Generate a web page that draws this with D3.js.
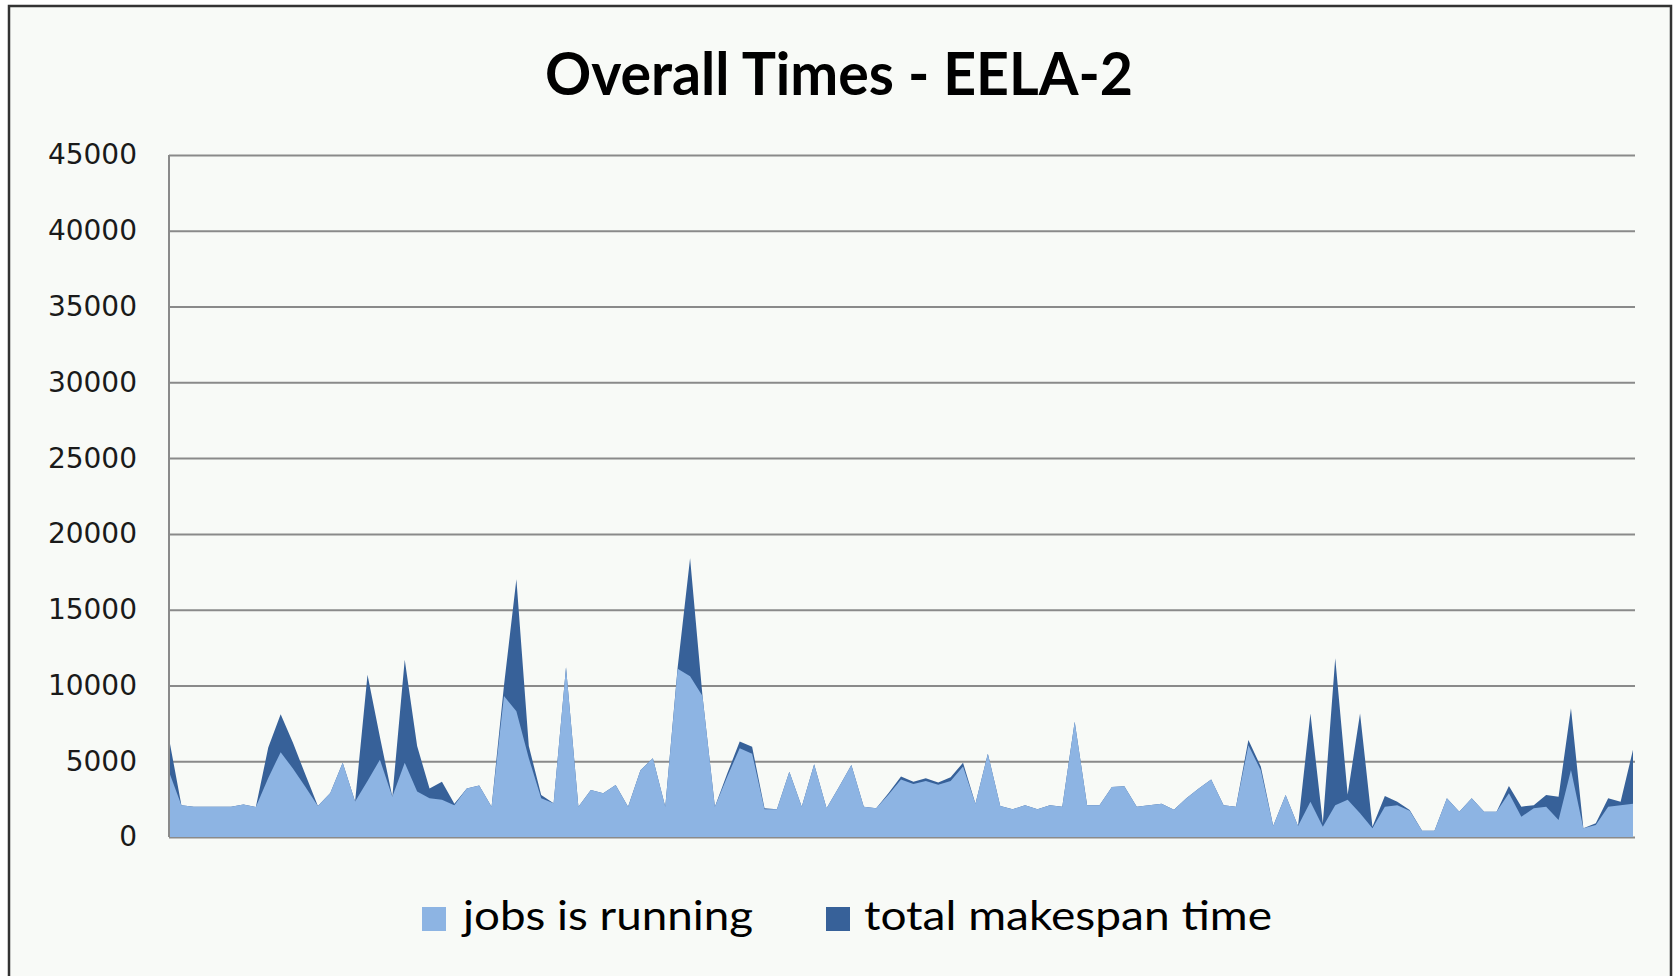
<!DOCTYPE html>
<html>
<head>
<meta charset="utf-8">
<script src="https://cdn.jsdelivr.net/npm/d3@7"></script>
<style>
  html, body { margin: 0; padding: 0; background: #ffffff; }
  svg { display: block; }
</style>
</head>
<body>
<svg id="mainFrame"></svg>
<script>
// values, one entry per job (119 of them)
const jobsRunning = [
    4300, 2100, 2000, 2000, 2000, 2000, 2150, 1980, 3900, 5600,
    4500, 3300, 2050, 2900, 4900, 2350, 3700, 5100, 2650, 4900,
    3000, 2550, 2450, 2100, 3200, 3400, 2000, 9300, 8300, 5200,
    2550, 2220, 11200, 2000, 3100, 2880, 3430, 2000, 4400, 5200,
    2000, 11100, 10600, 9300, 2000, 4000, 5850, 5500, 1830, 1830,
    4300, 2000, 4800, 1890, 3300, 4750, 2000, 1890, 2800, 3800,
    3500, 3700, 3450, 3700, 4650, 2200, 5500, 2050, 1830, 2100,
    1830, 2100, 2000, 7600, 2100, 2100, 3300, 3350, 2000, 2100,
    2200, 1800, 2550, 3200, 3800, 2100, 2000, 6050, 4400, 730,
    2770, 730, 2330, 680, 2100, 2450, 1560, 570, 2000, 2100,
    1740, 420, 420, 2550, 1670, 2550, 1670, 1670, 2880, 1340,
    1890, 2000, 1120, 4420, 570, 790, 2000, 2100, 2200
];

const totalMakespan = [
    6500, 2100, 2000, 2000, 2000, 2000, 2150, 1980, 5900, 8100,
    6200, 4100, 2050, 2900, 4900, 2350, 10700, 6600, 2650, 11700,
    6000, 3200, 3650, 2200, 3200, 3400, 2000, 10000, 17000, 6000,
    2770, 2220, 11200, 2000, 3100, 2880, 3430, 2000, 4400, 5200,
    2000, 11200, 18400, 9300, 2000, 4200, 6300, 5950, 1890, 1830,
    4300, 2000, 4800, 1890, 3300, 4750, 2000, 1890, 2900, 4000,
    3650, 3870, 3600, 3940, 4900, 2200, 5500, 2050, 1830, 2100,
    1830, 2100, 2000, 7600, 2100, 2100, 3300, 3350, 2000, 2100,
    2200, 1800, 2550, 3200, 3800, 2100, 2000, 6400, 4650, 730,
    2770, 730, 8150, 900, 11800, 2800, 8150, 680, 2700, 2330,
    1780, 420, 420, 2550, 1670, 2550, 1670, 1670, 3370, 2000,
    2100, 2770, 2660, 8500, 570, 900, 2550, 2330, 5750
];

const yTicks = [0, 5000, 10000, 15000, 20000, 25000, 30000, 35000, 40000, 45000];
const seriesNames = ["jobs is running", "total makespan time"];
const seriesColors = ["#8db4e3", "#376199"];
const chartTitle = "Overall Times - EELA-2";

const width = 1673;
const height = 976;

function draw() {
    const x = d3.scaleLinear()
        .domain([0, jobsRunning.length - 1])
        .range([169, 1633]);

    const y = d3.scaleLinear()
        .domain([0, 45000])
        .range([837, 155]);

    var svg = d3.select("#mainFrame")
        .attr("width", width)
        .attr("height", height);

    // chart frame
    svg.append("rect")
        .attr("x", 9)
        .attr("y", 6)
        .attr("width", 1662)
        .attr("height", 990)
        .attr("fill", "#f8faf7")
        .attr("stroke", "#333")
        .attr("stroke-width", 2.5);

    // grid + tick labels
    const axis = svg.append("g")
        .attr("transform", "translate(169,0)")
        .call(d3.axisLeft(y)
            .tickValues(yTicks)
            .tickSize(-1466)
            .tickPadding(32)
            .tickFormat(d3.format("d")));

    axis.select(".domain").remove();
    axis.selectAll(".tick line")
        .attr("stroke", "#8a8a8a")
        .attr("stroke-width", 2);
    axis.selectAll(".tick text")
        .attr("fill", "#1a1a1a")
        .attr("font-family", "DejaVu Sans, sans-serif")
        .attr("font-size", 28);

    const areaTotal = d3.area()
        .x((d, i) => x(i))
        .y0(y(0))
        .y1(d => y(d));

    svg.append("path")
        .datum(totalMakespan)
        .attr("fill", seriesColors[1])
        .attr("d", areaTotal);

    svg.append("path")
        .datum(jobsRunning)
        .attr("fill", seriesColors[0])
        .attr("d", areaTotal);

    // left axis line
    svg.append("line")
        .attr("x1", 169).attr("x2", 169)
        .attr("y1", 155).attr("y2", 837)
        .attr("stroke", "#8a8a8a")
        .attr("stroke-width", 2);

    svg.append("text")
        .attr("x", 839)
        .attr("y", 95)
        .attr("text-anchor", "middle")
        .attr("font-family", "Lato, sans-serif")
        .attr("font-weight", "bold")
        .attr("font-size", 60)
        .attr("textLength", 588)
        .attr("lengthAdjust", "spacingAndGlyphs")
        .attr("fill", "#000")
        .text(chartTitle);

    // legend
    const legendPos = [
        { sx: 422, tx: 463, tw: 290 },
        { sx: 826, tx: 864, tw: 408 }
    ];
    const legend = svg.selectAll("g.legend")
        .data(seriesNames)
        .join("g")
        .attr("class", "legend");

    legend.append("rect")
        .attr("x", (d, i) => legendPos[i].sx)
        .attr("y", 907)
        .attr("width", 24)
        .attr("height", 24)
        .attr("fill", (d, i) => seriesColors[i]);

    legend.append("text")
        .attr("x", (d, i) => legendPos[i].tx)
        .attr("y", 930)
        .attr("font-family", "Lato, sans-serif")
        .attr("font-size", 40)
        .attr("textLength", (d, i) => legendPos[i].tw)
        .attr("lengthAdjust", "spacingAndGlyphs")
        .attr("fill", "#000")
        .text(d => d);

    return svg.node();
}

draw();
</script>
</body>
</html>
